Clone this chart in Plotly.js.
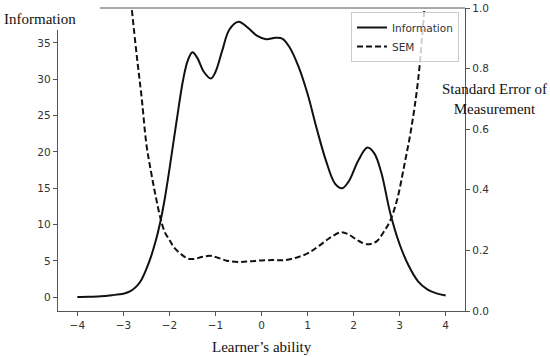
<!DOCTYPE html>
<html>
<head>
<meta charset="utf-8">
<script src="https://cdn.plot.ly/plotly-3.0.1.min.js"></script>
<style>html,body{margin:0;padding:0;background:#fff;}#chart{width:550px;height:357px;}</style>
</head>
<body>
<div id="chart"></div>
<script>
// Test information curve
const infoX = [-4, -3.75, -3.5, -3.25, -3.0, -2.9, -2.8, -2.7, -2.6, -2.5, -2.4, -2.3, -2.2, -2.1, -2.0, -1.85, -1.7, -1.6, -1.5, -1.4, -1.25, -1.1, -1.0, -0.85, -0.7, -0.5, -0.3, -0.1, 0.1, 0.3, 0.45, 0.6, 0.8, 1.0, 1.2, 1.4, 1.6, 1.75, 1.9, 2.1, 2.3, 2.45, 2.6, 2.8, 3.0, 3.2, 3.4, 3.6, 3.8, 4.0];
const infoY = [0.05, 0.08, 0.15, 0.3, 0.5, 0.7, 1.05, 1.6, 2.5, 3.9, 5.6, 7.7, 10.3, 13.6, 17.6, 24.0, 30.0, 32.6, 33.7, 33.0, 31.0, 30.1, 31.0, 34.0, 36.8, 37.9, 37.1, 36.0, 35.5, 35.7, 35.6, 34.5, 31.8, 28.0, 23.2, 18.8, 15.6, 15.0, 16.0, 18.8, 20.6, 19.8, 17.2, 11.5, 7.3, 4.3, 2.2, 1.1, 0.55, 0.25];

const semX = [-2.95, -2.82, -2.7, -2.6, -2.5, -2.4, -2.3, -2.2, -2.1, -2.0, -1.9, -1.75, -1.6, -1.45, -1.3, -1.12, -0.95, -0.75, -0.5, -0.25, 0.0, 0.25, 0.5, 0.75, 1.0, 1.25, 1.5, 1.73, 1.9, 2.1, 2.3, 2.5, 2.65, 2.8, 2.95, 3.1, 3.25, 3.4, 3.54, 3.65];
const semY = [1.2, 1.0, 0.83, 0.70, 0.55, 0.46, 0.38, 0.31, 0.26, 0.235, 0.21, 0.188, 0.173, 0.172, 0.178, 0.182, 0.176, 0.166, 0.162, 0.164, 0.167, 0.168, 0.168, 0.176, 0.19, 0.215, 0.243, 0.26, 0.252, 0.232, 0.22, 0.23, 0.26, 0.30, 0.37, 0.48, 0.60, 0.76, 1.0, 1.2];

const xTicks = [-4, -3, -2, -1, 0, 1, 2, 3, 4];
const infoTicks = [0, 5, 10, 15, 20, 25, 30, 35];
const semTicks = [0.0, 0.2, 0.4, 0.6, 0.8, 1.0];

const tickFont = {family: 'DejaVu Sans', size: 10.5, color: '#333'};
const serif = {family: 'Liberation Serif', size: 15, color: '#111'};
const L = 58, R = 85, T = 8, B = 46, W = 550, H = 357;
const pw = W - L - R, ph = H - T - B;
const px2x = p => (p - L) / pw;
const px2y = p => (H - B - p) / ph;

const data = [
  {x: infoX, y: infoY, name: 'Information', type: 'scatter', mode: 'lines',
   line: {color: '#111', width: 2, shape: 'spline', smoothing: 1}, yaxis: 'y'},
  {x: semX, y: semY, name: 'SEM', type: 'scatter', mode: 'lines',
   line: {color: '#111', width: 2, dash: '6px,3px', shape: 'spline', smoothing: 1}, yaxis: 'y2'}
];

const axisCommon = {showgrid: false, zeroline: false, showline: true, linecolor: '#555', linewidth: 1.2,
  ticks: 'outside', ticklen: 4, tickwidth: 1, tickcolor: '#555', tickfont: tickFont};

const layout = {
  width: W, height: H,
  margin: {l: L, r: R, t: T, b: B, pad: 0},
  paper_bgcolor: '#fff', plot_bgcolor: '#fff',
  showlegend: true,
  legend: {x: px2x(459), y: px2y(12), xanchor: 'right', yanchor: 'top',
    bgcolor: 'rgba(255,255,255,0.8)', bordercolor: '#ccc', borderwidth: 1,
    font: {family: 'DejaVu Sans', size: 10.5, color: '#333'}, itemwidth: 30},
  xaxis: Object.assign({}, axisCommon, {range: [-4.42, 4.42], tickvals: xTicks, mirror: false}),
  yaxis: Object.assign({}, axisCommon, {range: [-1.88, 39.8], tickvals: infoTicks}),
  yaxis2: Object.assign({}, axisCommon, {range: [0, 1], tickvals: semTicks, tickformat: '.1f',
    overlaying: 'y', side: 'right', anchor: 'x'}),
  shapes: [
    {type: 'line', xref: 'paper', yref: 'paper', x0: 0, x1: 1, y0: 1, y1: 1,
     line: {color: '#555', width: 1.2}, layer: 'above'},
    {type: 'rect', xref: 'paper', yref: 'paper', x0: px2x(0), x1: px2x(100), y0: px2y(30), y1: px2y(0),
     fillcolor: '#fff', line: {width: 0}, layer: 'above'}
  ],
  annotations: [
    {text: 'Information', xref: 'paper', yref: 'paper', x: px2x(2), y: px2y(19),
     xanchor: 'left', yanchor: 'middle', showarrow: false, font: serif},
    {text: 'Standard Error of<br>Measurement', xref: 'paper', yref: 'paper', x: px2x(494), y: px2y(99),
     xanchor: 'center', yanchor: 'middle', showarrow: false, font: serif, align: 'center'},
    {text: 'Learner\u2019s ability', xref: 'paper', yref: 'paper', x: px2x(262), y: px2y(347),
     xanchor: 'center', yanchor: 'middle', showarrow: false, font: serif}
  ]
};

Plotly.newPlot('chart', data, layout, {staticPlot: true, displayModeBar: false});
</script>
</body>
</html>
